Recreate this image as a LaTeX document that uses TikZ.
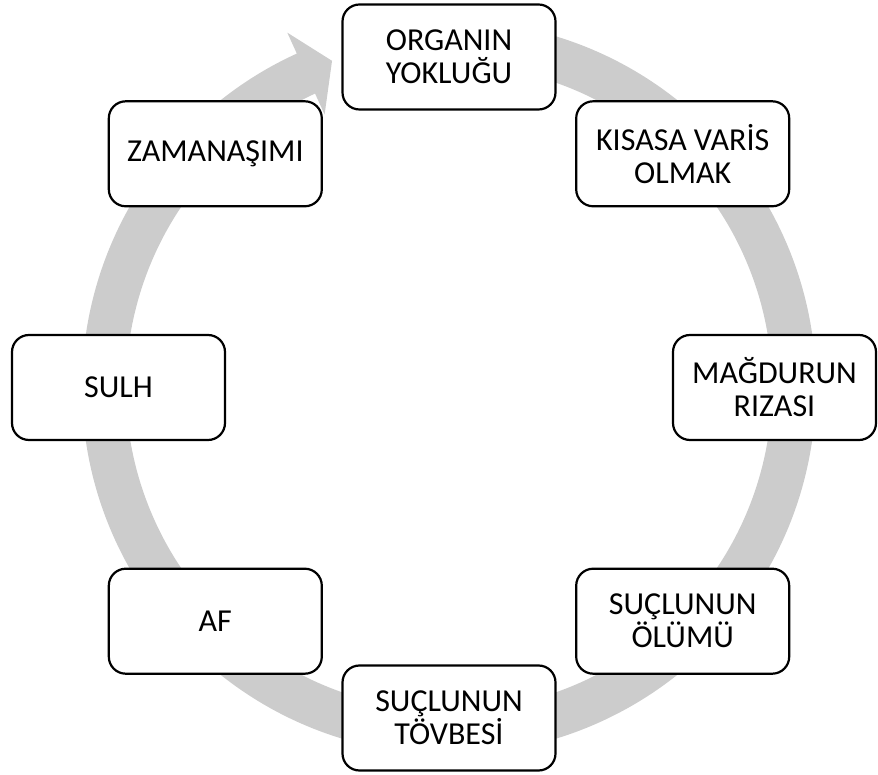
\documentclass[tikz,border=0pt]{standalone}
\usepackage{fontspec}
\setmainfont{Carlito}
\definecolor{ringgray}{RGB}{204,204,204}
\begin{document}
\begin{tikzpicture}[x=1pt,y=1pt,
  cyclebox/.style={draw=black, line width=2.2pt, fill=white, rounded corners=17pt,
    minimum width=213pt, minimum height=105pt, inner sep=0pt, align=center,
    font=\fontsize{32}{33}\selectfont}]
\useasboundingbox (0,0) rectangle (878,774);
\coordinate (C) at (449,386.5);
% circular arrow
\begin{scope}[shift={(449,386.5)}]
\fill[ringgray] (85:367pt) arc[start angle=85, end angle=-245.5, radius=367pt]
  -- (114.5:390pt) -- (109.7:347pt) -- (114.5:300pt) -- (114.5:323pt)
  arc[start angle=-245.5, end angle=85, radius=323pt] -- cycle;
\end{scope}
% boxes
\node[cyclebox] (n1) at (449,717) {ORGANIN\\YOKLUĞU};
\node[cyclebox] (n2) at (682.7,620.2) {KISASA VARİS\\OLMAK};
\node[cyclebox, minimum width=203pt] (n3) at (774.5,386.5) {MAĞDURUN\\RIZASI};
\node[cyclebox] (n4) at (682.7,152.8) {SUÇLUNUN\\ÖLÜMÜ};
\node[cyclebox] (n5) at (449,56) {SUÇLUNUN\\TÖVBESİ};
\node[cyclebox] (n6) at (215.3,152.8) {AF};
\node[cyclebox] (n7) at (118.5,386.5) {SULH};
\node[cyclebox] (n8) at (215.3,620.2) {ZAMANAŞIMI};
\end{tikzpicture}
\end{document}
